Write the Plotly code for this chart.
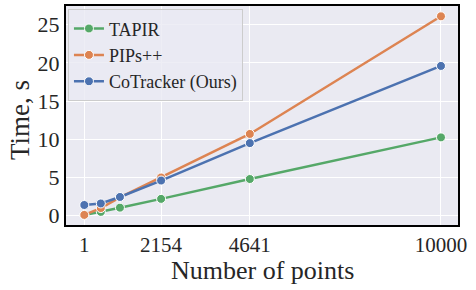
import plotly.graph_objects as go

x_points = [1, 464, 1000, 2154, 4641, 10000]
tapir = [0.1, 0.5, 1.05, 2.2, 4.8, 10.25]
pips = [0.1, 1.0, 2.4, 5.0, 10.7, 26.1]
cotracker = [1.4, 1.6, 2.45, 4.6, 9.5, 19.6]
x_ticks = [1, 2154, 4641, 10000]
y_ticks = [0, 5, 10, 15, 20, 25]

series = [
    ("TAPIR", tapir, "#55A868"),
    ("PIPs++", pips, "#DD8452"),
    ("CoTracker (Ours)", cotracker, "#4C72B0"),
]

fig = go.Figure()
for name, vals, col in series:
    fig.add_trace(go.Scatter(
        x=x_points, y=vals, name=name, mode="lines+markers",
        line=dict(color=col, width=2.5),
        marker=dict(color=col, size=9, line=dict(color="white", width=1)),
    ))

font_family = "Liberation Serif"
fig.update_layout(
    width=476, height=290,
    margin=dict(l=66, r=18, t=6, b=65),
    paper_bgcolor="white", plot_bgcolor="#EAEAF2",
    font=dict(family=font_family, color="#262626"),
    showlegend=True,
    legend=dict(
        x=0.005, y=0.985, xanchor="left", yanchor="top",
        bgcolor="rgba(234,234,242,0.8)", bordercolor="#CCCCCC", borderwidth=1,
        font=dict(size=18, family=font_family, color="#262626"),
        itemwidth=30, tracegroupgap=0,
    ),
    xaxis=dict(
        range=[-512, 10477], tickvals=x_ticks, ticktext=[str(v) for v in x_ticks],
        showgrid=True, gridcolor="white", gridwidth=1.2, zeroline=False,
        showline=True, mirror=True, linecolor="black", linewidth=2,
        tickfont=dict(size=21), ticks="", automargin=False,
    ),
    yaxis=dict(
        range=[-1.22, 27.45], tickvals=y_ticks,
        showgrid=True, gridcolor="white", gridwidth=1.2, zeroline=False,
        showline=True, mirror=True, linecolor="black", linewidth=2,
        tickfont=dict(size=22), ticks="", automargin=False,
    ),
    annotations=[
        dict(text="Number of points", xref="paper", yref="paper",
             x=0.5, y=-0.207, xanchor="center", yanchor="middle",
             showarrow=False, font=dict(size=26)),
        dict(text="Time, s", xref="paper", yref="paper",
             x=-0.117, y=0.48, xanchor="center", yanchor="middle", textangle=-90,
             showarrow=False, font=dict(size=27)),
    ],
)

fig.write_html("out.html", config={"displayModeBar": False},
               post_script="document.body.style.margin='0';")
